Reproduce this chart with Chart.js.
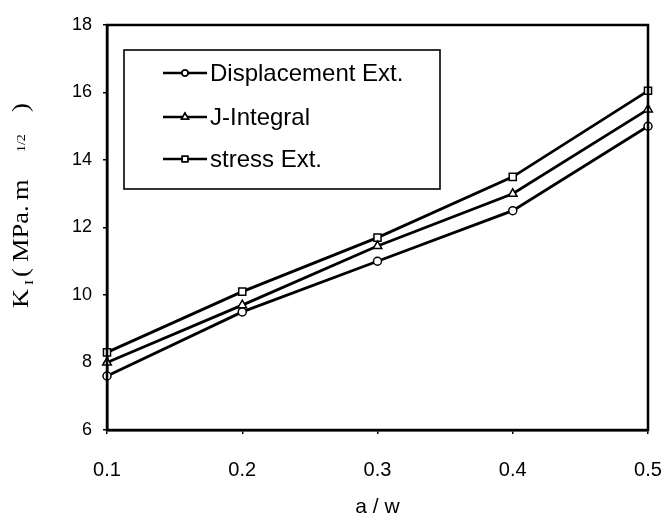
<!DOCTYPE html>
<html>
<head>
<meta charset="utf-8">
<script src="https://cdn.jsdelivr.net/npm/chart.js@4"></script>
<style>
  html, body { margin: 0; padding: 0; background: #fff; }
  #wrap { width: 667px; height: 517px; }
</style>
</head>
<body>
<div id="wrap"><canvas id="kChart" width="667" height="517"></canvas></div>
<script>
// a/w ratios (x axis)
var aw = ["0.1", "0.2", "0.3", "0.4", "0.5"];
// stress intensity factor K_I (MPa.m^1/2) per method
var displacementExt = [7.6, 9.5, 11.0, 12.5, 15.0];
var jIntegral = [8.0, 9.7, 11.45, 13.0, 15.5];
var stressExt = [8.3, 10.1, 11.7, 13.5, 16.05];
var yTicks = [6, 8, 10, 12, 14, 16, 18];

// frame round the plot (top + right sides too)
var framePlugin = {
  id: "frame",
  afterDatasetsDraw: function (chart) {
    var a = chart.chartArea;
    var ctx = chart.ctx;
    ctx.save();
    ctx.strokeStyle = "#000";
    ctx.lineWidth = 2.5;
    ctx.strokeRect(a.left, a.top, a.right - a.left, a.bottom - a.top);
    ctx.restore();
  },
};

// boxed legend inside the plot, top-left
var boxLegend = {
  id: "boxLegend",
  afterDraw: function (chart) {
    var ctx = chart.ctx;
    var box = { x: 124, y: 50, w: 316, h: 139 };
    var rows = [73, 117, 159];
    ctx.save();
    ctx.strokeStyle = "#000";
    ctx.lineWidth = 1.6;
    ctx.strokeRect(box.x, box.y, box.w, box.h);
    ctx.font = "24px 'Liberation Sans', Arial, sans-serif";
    ctx.textBaseline = "middle";
    ctx.fillStyle = "#000";
    chart.data.datasets.forEach(function (ds, i) {
      var y = rows[i];
      ctx.lineWidth = 2.5;
      ctx.beginPath();
      ctx.moveTo(163, y);
      ctx.lineTo(207, y);
      ctx.stroke();
      ctx.lineWidth = 1.5;
      Chart.helpers.drawPoint(
        ctx,
        {
          pointStyle: ds.pointStyle,
          radius: ds.pointRadius - 1,
          borderWidth: 1.5,
          rotation: 0,
        },
        185,
        y
      );
      ctx.fillStyle = "#fff";
      ctx.fill();
      ctx.stroke();
      ctx.fillStyle = "#000";
      ctx.fillText(ds.label, 210, y + 1);
    });
    ctx.restore();
  },
};

// rotated y title with subscript / superscript
var yTitle = {
  id: "yTitle",
  afterDraw: function (chart) {
    var ctx = chart.ctx;
    var parts = [
      { t: "K", size: 23, at: 0, dy: 0 },
      { t: "I", size: 13, at: 23, dy: 5 },
      { t: "(", size: 23, at: 31, dy: 0 },
      { t: "MPa.", size: 23, at: 46, dy: 0 },
      { t: "m", size: 23, at: 108, dy: 0 },
      { t: "1/2", size: 12, at: 156, dy: -3 },
      { t: ")", size: 23, at: 196, dy: 0 },
    ];
    ctx.save();
    ctx.translate(28, 308);
    ctx.rotate(-Math.PI / 2);
    ctx.fillStyle = "#000";
    ctx.textBaseline = "alphabetic";
    parts.forEach(function (p) {
      ctx.save();
      ctx.translate(p.at, p.dy);
      ctx.scale(1.15, 1);
      ctx.font = p.size + "px 'Liberation Serif', 'Times New Roman', serif";
      ctx.fillText(p.t, 0, 0);
      ctx.restore();
    });
    ctx.restore();
  },
};

var ctx = document.getElementById("kChart").getContext("2d");

function lineSet(label, data, style, r) {
  return {
    label: label,
    data: data,
    borderColor: "#000",
    borderWidth: 2.8,
    backgroundColor: "#fff",
    pointStyle: style,
    pointRadius: r,
    pointBackgroundColor: "#fff",
    pointBorderColor: "#000",
    pointBorderWidth: 1.5,
    tension: 0,
    fill: false,
    clip: false,
  };
}

new Chart(ctx, {
  type: "line",
  data: {
    labels: aw,
    datasets: [
      lineSet("Displacement Ext.", displacementExt, "circle", 4),
      lineSet("J-Integral", jIntegral, "triangle", 5),
      lineSet("stress Ext.", stressExt, "rect", 5),
    ],
  },
  options: {
    responsive: false,
    animation: false,
    devicePixelRatio: 1,
    layout: {
      padding: { left: 0, right: 19, top: 25, bottom: 0 },
    },
    plugins: {
      legend: { display: false },
      tooltip: { enabled: false },
      title: { display: false },
      colors: { enabled: false },
    },
    scales: {
      x: {
        type: "category",
        offset: false,
        grid: {
          display: true,
          drawOnChartArea: false,
          drawTicks: true,
          tickLength: 4,
          color: "#000",
          lineWidth: 1.5,
        },
        border: { display: true, color: "#000", width: 2.5 },
        ticks: {
          color: "#000",
          padding: 24,
          maxRotation: 0,
          font: { family: "'Liberation Sans', Arial, sans-serif", size: 20 },
        },
        title: {
          display: true,
          text: "a / w",
          color: "#000",
          padding: { top: 0, bottom: 0 },
          font: {
            family: "'Liberation Sans', Arial, sans-serif",
            size: 21,
            lineHeight: 0.9,
          },
        },
        afterFit: function (scale) {
          scale.height = 87;
          scale.paddingLeft = 0;
          scale.paddingRight = 0;
        },
      },
      y: {
        min: yTicks[0],
        max: yTicks[yTicks.length - 1],
        grid: {
          display: true,
          drawOnChartArea: false,
          drawTicks: true,
          tickLength: 4,
          color: "#000",
          lineWidth: 1.5,
        },
        border: { display: true, color: "#000", width: 2.5 },
        afterBuildTicks: function (scale) {
          scale.ticks = yTicks.map(function (v) {
            return { value: v };
          });
        },
        ticks: {
          color: "#000",
          padding: 11,
          font: { family: "'Liberation Sans', Arial, sans-serif", size: 18 },
        },
        afterFit: function (scale) {
          scale.width = 107;
        },
      },
    },
  },
  plugins: [framePlugin, boxLegend, yTitle],
});
</script>
</body>
</html>
